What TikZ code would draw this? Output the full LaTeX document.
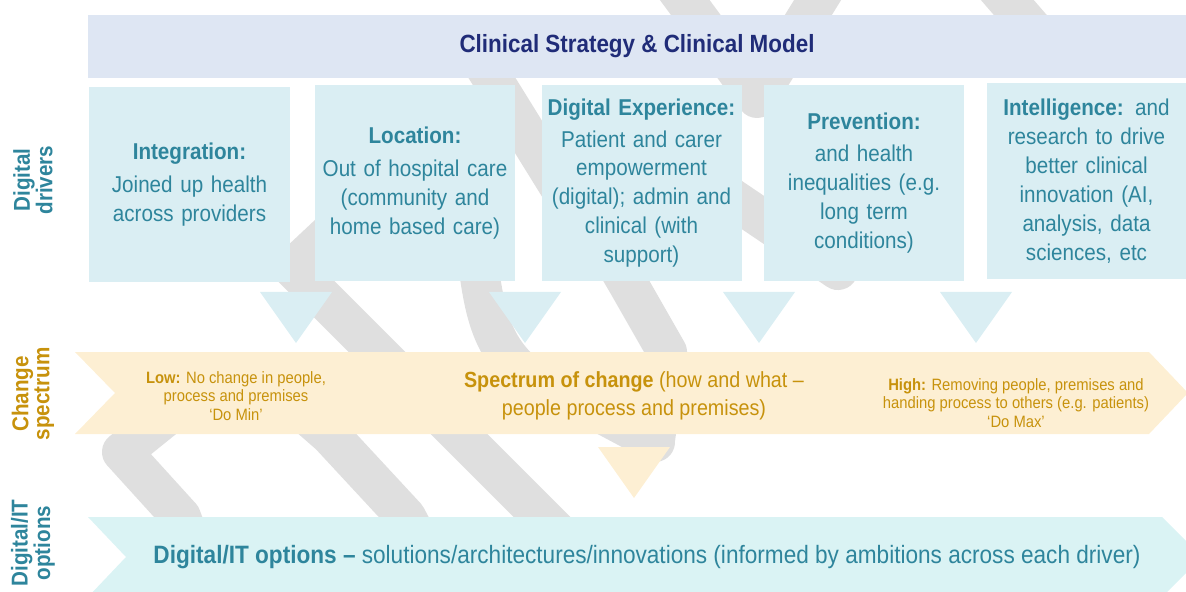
\documentclass[tikz,border=0pt]{standalone}
\usepackage{fontspec}
\setmainfont{Liberation Sans}[FakeStretch=0.9]
\definecolor{bannerblue}{RGB}{222,230,243}
\definecolor{driverblue}{RGB}{218,238,243}
\definecolor{optioncyan}{RGB}{218,243,244}
\definecolor{changepeach}{RGB}{253,239,211}
\definecolor{navytext}{RGB}{32,44,120}
\definecolor{tealtext}{RGB}{46,133,156}
\definecolor{goldtext}{RGB}{199,146,12}
\definecolor{logogrey}{RGB}{223,223,223}
\begin{document}
\begin{tikzpicture}[
        x=1bp, y=-1bp,
        logo band/.style={draw=logogrey, line width=40bp, line join=round, line cap=round},
        driver/.style={fill=driverblue, minimum width=200bp, minimum height=195bp, inner sep=0pt, text width=196bp, align=center, text=tealtext, font=\fontsize{23}{29}\selectfont},
        side label/.style={rotate=90, align=center, inner sep=0pt, font=\bfseries\fontsize{23}{21}\selectfont},
        spectrum text/.style={align=center, inner sep=0pt, text=goldtext},
        drop/.style={fill=driverblue}
    ]
	\useasboundingbox (0,0) rectangle (1186,592);
	\clip (0,0) rectangle (1186,592);
	% grey ribbon in the background
	\draw[logo band] (670,-20) -- (757,98) -- (830,-20);
	\draw[logo band] (990,-20) -- (1035,32);
	\draw[logo band] (466,36) -- (580,220);
	\draw[logo band] (690,170) -- (838,270) -- (910,130);
	\draw[logo band] (440,130) -- (293,268) -- (620,595);
	\draw[logo band] (468,180) .. controls (482,280) and (478,330) .. (520,370) -- (655,442);
	\draw[logo band] (585,210) -- (627,282) -- (667,352) -- (655,440);
	\draw[logo band] (215,610) -- (181,517) -- (122,452) -- (205,385) -- (290,400) -- (330,435) -- (406,517) -- (450,600);
	% banner and driver boxes
	\node[fill=bannerblue, minimum width=1098bp, minimum height=63bp, inner sep=0pt, text=navytext, font=\bfseries\fontsize{25}{30}\selectfont] (strategy) at (637,46.5) {Clinical Strategy \& Clinical Model};
	\node[driver] (drv_int) at (189.5,184.5) {\textbf{Integration:}\\[4bp] Joined up health\\ across providers};
	\node[driver] (drv_loc) at (415,183) {\textbf{Location:}\\[4bp] Out of hospital care\\ (community and\\ home based care)};
	\node[driver] (drv_exp) at (641.5,183) {\textbf{Digital Experience:}\\[3bp] Patient and carer\\ empowerment\\ (digital); admin and\\ clinical (with\\ support)};
	\node[driver] (drv_prev) at (864,183) {\textbf{Prevention:}\\[3bp] and health\\ inequalities (e.g.\\ long term\\ conditions)};
	\node[driver, minimum width=199bp] (drv_intel) at (1086.5,181) {\textbf{Intelligence:} and\\ research to drive\\ better clinical\\ innovation (AI,\\ analysis, data\\ sciences, etc};
	\foreach \cx in {296,525,759,976}
		\fill[drop] (\cx-36,292) -- (\cx+36,292) -- (\cx,343) -- cycle;
	% change spectrum arrow
	\fill[changepeach] (75,352) -- (1149,352) -- (1188,393) -- (1149,434) -- (75,434) -- (115,393) -- cycle;
	\fill[changepeach] (598,447) -- (670,447) -- (634,498) -- cycle;
	\node[spectrum text, font=\fontsize{16.5}{18.5}\selectfont] (low_end) at (236,396) {\textbf{Low:} No change in people,\\ process and premises\\ ‘Do Min’};
	\node[spectrum text, font=\fontsize{22}{28}\selectfont] (spectrum) at (634,396) {\textbf{Spectrum of change} (how and what –\\ people process and premises)};
	\node[spectrum text, font=\fontsize{16.5}{18.5}\selectfont] (high_end) at (1016,403) {\textbf{High:} Removing people, premises and\\ handing process to others (e.g. patients)\\ ‘Do Max’};
	% options arrow
	\fill[optioncyan] (88,517) -- (1162,517) -- (1202,557) -- (1162,597) -- (88,597) -- (126,557) -- cycle;
	\node[inner sep=0pt, text=tealtext, font=\fontsize{25.2}{28}\selectfont] (options) at (647,557) {\textbf{Digital/IT options –} solutions/architectures/innovations (informed by ambitions across each driver)};
	% row labels
	\node[side label, text=tealtext] (lbl_drivers) at (33,180) {Digital\\ drivers};
	\node[side label, text=goldtext] (lbl_change) at (33,394) {Change\\ spectrum};
	\node[side label, text=tealtext] (lbl_options) at (33,543) {Digital/IT\\ options};
    \end{tikzpicture}
\end{document}
